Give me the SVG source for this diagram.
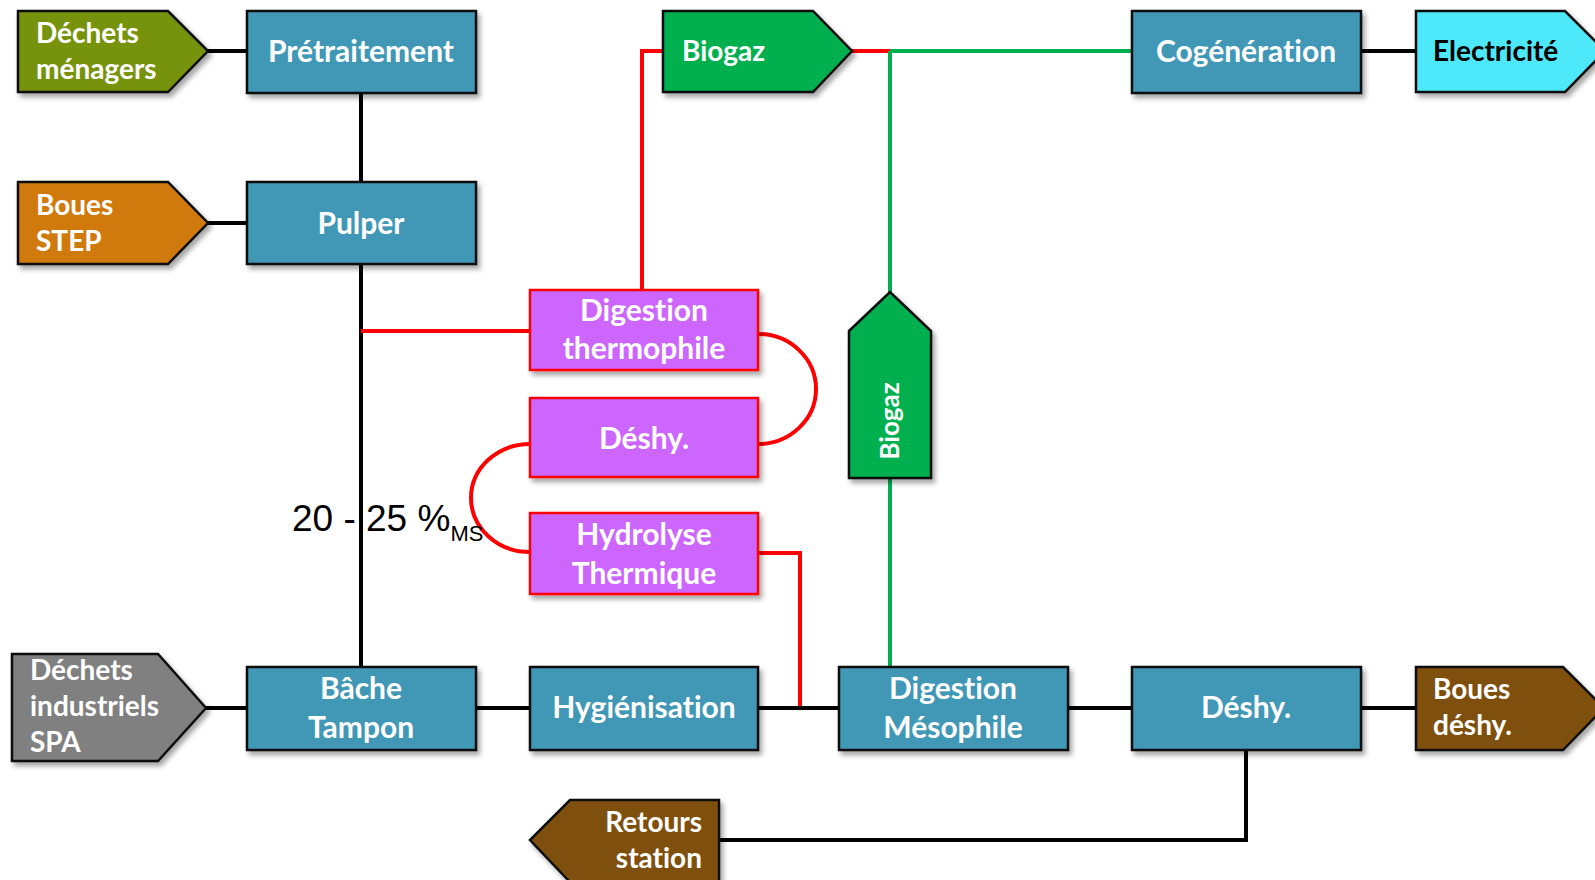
<svg xmlns="http://www.w3.org/2000/svg" width="1595" height="880" viewBox="0 0 1595 880">
<defs>
<filter id="sh" x="-10%" y="-10%" width="130%" height="130%">
<feDropShadow dx="3" dy="4" stdDeviation="2.5" flood-color="#000" flood-opacity="0.35"/>
</filter>
</defs>
<style>
.blue{fill:#4198B6;stroke:#111;stroke-width:2.5;filter:url(#sh)}
.purp{fill:#CC66FF;stroke:#FF0000;stroke-width:2.5;filter:url(#sh)}
.pent{stroke:#111;stroke-width:2.5;stroke-linejoin:miter;filter:url(#sh)}
.t{font-family:Lato,"Open Sans",sans-serif;font-weight:bold;font-size:28px;fill:#fff;font-variant-ligatures:none;font-feature-settings:"liga" 0}
.c{text-anchor:middle;font-size:30px}
.k{stroke:#000;stroke-width:4;fill:none}
.r{stroke:#FF0000;stroke-width:4;fill:none}
.g{stroke:#00B050;stroke-width:4;fill:none}
</style>
<rect width="1595" height="880" fill="#fff"/>
<g id="connectors">
<line class="k" x1="208" y1="51" x2="247" y2="51"/>
<line class="k" x1="208" y1="223" x2="247" y2="223"/>
<line class="k" x1="361" y1="93" x2="361" y2="182"/>
<line class="k" x1="361" y1="264" x2="361" y2="667"/>
<line class="r" x1="361" y1="331" x2="530" y2="331"/>
<polyline class="r" points="663,51 642,51 642,290"/>
<line class="r" x1="852" y1="51" x2="890" y2="51"/>
<line class="g" x1="890" y1="51" x2="1132" y2="51"/>
<line class="g" x1="890" y1="51" x2="890" y2="292"/>
<line class="g" x1="890" y1="478" x2="890" y2="667"/>
<line class="k" x1="1361" y1="51" x2="1416" y2="51"/>
<path class="r" d="M758 334 A58 55 0 0 1 758 444"/>
<path class="r" d="M530 444 A59 54 0 0 0 530 552"/>
<polyline class="r" points="758,553 800,553 800,708"/>
<line class="k" x1="206" y1="708" x2="247" y2="708"/>
<line class="k" x1="476" y1="708" x2="530" y2="708"/>
<line class="k" x1="758" y1="708" x2="839" y2="708"/>
<line class="k" x1="1068" y1="708" x2="1132" y2="708"/>
<line class="k" x1="1361" y1="708" x2="1416" y2="708"/>
<polyline class="k" points="1246,750 1246,840 719,840"/>
</g>
<g id="dechets-menagers">
<polygon class="pent" fill="#77930F" points="18,11 168,11 208,51 168,92 18,92"/>
<text class="t" x="36" y="43">Déchets</text>
<text class="t" x="36" y="79">ménagers</text>
</g>
<g id="boues-step">
<polygon class="pent" fill="#D07A0E" points="18,182 168,182 208,223 168,264 18,264"/>
<text class="t" x="36" y="215">Boues</text>
<text class="t" x="36" y="251">STEP</text>
</g>
<g id="pretraitement">
<rect class="blue" x="247" y="11" width="229" height="82"/>
<text class="t c" x="361" y="62">Prétraitement</text>
</g>
<g id="pulper">
<rect class="blue" x="247" y="182" width="229" height="82"/>
<text class="t c" x="361" y="234">Pulper</text>
</g>
<g id="biogaz-top">
<polygon class="pent" fill="#00B050" points="663,11 813,11 852,51 813,92 663,92"/>
<text class="t" x="682" y="61">Biogaz</text>
</g>
<g id="cogeneration">
<rect class="blue" x="1132" y="11" width="229" height="82"/>
<text class="t c" x="1246" y="62">Cogénération</text>
</g>
<g id="electricite">
<polygon class="pent" fill="#4DE8FA" points="1416,11 1565,11 1605,51 1565,92 1416,92"/>
<text class="t" x="1433" y="61" style="fill:#000">Electricité</text>
</g>
<g id="digestion-thermophile">
<rect class="purp" x="530" y="290" width="228" height="80"/>
<text class="t c" x="644" y="321">Digestion</text>
<text class="t c" x="644" y="359">thermophile</text>
</g>
<g id="deshy-purple">
<rect class="purp" x="530" y="398" width="228" height="79"/>
<text class="t c" x="644" y="449">Déshy.</text>
</g>
<g id="hydrolyse">
<rect class="purp" x="530" y="513" width="228" height="81"/>
<text class="t c" x="644" y="545">Hydrolyse</text>
<text class="t c" x="644" y="584">Thermique</text>
</g>
<g id="biogaz-vertical">
<polygon class="pent" fill="#00B050" points="849,331 890,292 931,331 931,478 849,478"/>
<text class="t" x="0" y="0" text-anchor="middle" style="font-size:26px" transform="translate(899 421) rotate(-90)">Biogaz</text>
</g>
<g id="ms-label">
<text x="292" y="531" style="font-family:'Liberation Sans',Arial,sans-serif;font-size:37px;fill:#000">20 - 25 %<tspan dy="10" style="font-size:22px">MS</tspan></text>
</g>
<g id="dechets-industriels">
<polygon class="pent" fill="#808080" points="12,654 158,654 206,708 158,761 12,761"/>
<text class="t" x="30" y="680">Déchets</text>
<text class="t" x="30" y="716">industriels</text>
<text class="t" x="30" y="752">SPA</text>
</g>
<g id="bache-tampon">
<rect class="blue" x="247" y="667" width="229" height="83"/>
<text class="t c" x="361" y="699">Bâche</text>
<text class="t c" x="361" y="738">Tampon</text>
</g>
<g id="hygienisation">
<rect class="blue" x="530" y="667" width="228" height="83"/>
<text class="t c" x="644" y="718">Hygiénisation</text>
</g>
<g id="digestion-mesophile">
<rect class="blue" x="839" y="667" width="229" height="83"/>
<text class="t c" x="953" y="699">Digestion</text>
<text class="t c" x="953" y="738">Mésophile</text>
</g>
<g id="deshy">
<rect class="blue" x="1132" y="667" width="229" height="83"/>
<text class="t c" x="1246" y="718">Déshy.</text>
</g>
<g id="boues-deshy">
<polygon class="pent" fill="#7F5010" points="1416,667 1563,667 1604,708 1563,750 1416,750"/>
<text class="t" x="1433" y="699">Boues</text>
<text class="t" x="1433" y="735">déshy.</text>
</g>
<g id="retours-station">
<polygon class="pent" fill="#7F5010" points="719,800 570,800 530,840 570,882 719,882"/>
<text class="t" x="702" y="832" text-anchor="end">Retours</text>
<text class="t" x="702" y="868" text-anchor="end">station</text>
</g>
</svg>
